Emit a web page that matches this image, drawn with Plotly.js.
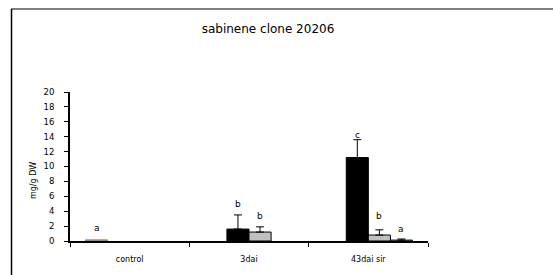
<!DOCTYPE html>
<html>
<head>
<meta charset="utf-8">
<script src="https://cdn.plot.ly/plotly-3.0.1.min.js"></script>
<style>html,body{margin:0;padding:0;background:#fff;}#chart{width:553px;height:275px;}</style>
</head>
<body>
<div id="chart"></div>
<script>
// ---- data ----
var categories = ["control", "3dai", "43dai sir"];
var seriesA = [0.15, null, null];          // control series (gray)
var seriesB = [null, 1.6, 11.2];           // black
var seriesBErr = [null, 1.9, 2.4];
var seriesC = [null, 1.2, 0.8];            // light gray
var seriesCErr = [null, 0.7, 0.7];
var seriesD = [null, null, 0.12];          // white
var seriesDErr = [null, null, 0.15];
var letterText = ["a", "b", "b", "c", "b", "a"];
var letterCat = ["control", "3dai", "3dai", "43dai sir", "43dai sir", "43dai sir"];
var letterSeries = [0, 1, 2, 1, 2, 3];
var letterY = [1.75, 5.0, 3.4, 14.2, 3.4, 1.6];
var yTicks = [0, 2, 4, 6, 8, 10, 12, 14, 16, 18, 20];

var FONT = "DejaVu Sans, sans-serif";

function bar(y, color, lineColor, err) {
  var t = {
    type: "bar", x: categories, y: y,
    marker: {color: color, line: {color: lineColor, width: 1}},
    hoverinfo: "none"
  };
  if (err) {
    t.error_y = {type: "data", array: err, symmetric: false, arrayminus: err.map(function(){return 0;}),
      color: "#000", thickness: 1, width: 4};
  }
  return t;
}

var traces = [
  bar(seriesA, "#999999", "#808080", null),
  bar(seriesB, "#000000", "#000000", seriesBErr),
  bar(seriesC, "#c0c0c0", "#000000", seriesCErr),
  bar(seriesD, "#ffffff", "#000000", seriesDErr)
];

var bargap = 0.26;
var slotW = (1 - bargap) / 4;
var annotations = letterText.map(function(t, i) {
  var ci = categories.indexOf(letterCat[i]);
  var xpos = ci - (1 - bargap) / 2 + slotW * (letterSeries[i] + 0.5);
  return {x: xpos, y: letterY[i], xref: "x", yref: "y", text: t, showarrow: false,
    font: {family: FONT, size: 9, color: "#000"}, yanchor: "middle", xanchor: "center"};
});
annotations.push({
  xref: "paper", yref: "y", x: (33 - 70) / 358, y: 8.05, text: "mg/g DW", textangle: -90,
  showarrow: false, font: {family: FONT, size: 8, color: "#000"}, xanchor: "center", yanchor: "middle"
});

var layout = {
  width: 553, height: 275,
  margin: {l: 70, r: 125, t: 92, b: 34, pad: 0},
  paper_bgcolor: "#fff", plot_bgcolor: "#fff",
  showlegend: false,
  barmode: "group", bargap: bargap, bargroupgap: 0,
  title: {text: "sabinene clone 20206", xref: "container", yref: "container",
    x: 268 / 553, y: 1 - 29 / 275, xanchor: "center", yanchor: "middle",
    font: {family: FONT, size: 12, color: "#000"}},
  xaxis: {
    type: "category", range: [-0.5, 2.5],
    showline: true, linecolor: "#000", linewidth: 2,
    ticks: "outside", tickson: "boundaries", ticklen: 4, tickcolor: "#000", tickwidth: 1,
    showgrid: false, zeroline: false, fixedrange: true,
    tickfont: {family: FONT, size: 8, color: "#000"}, ticklabelstandoff: 9
  },
  yaxis: {
    range: [0, 20], tickvals: yTicks, ticktext: yTicks.map(String),
    showline: true, linecolor: "#000", linewidth: 2,
    ticks: "outside", ticklen: 4, tickcolor: "#000", tickwidth: 1,
    showgrid: false, zeroline: false, fixedrange: true,
    tickfont: {family: FONT, size: 8.5, color: "#000"}, ticklabelstandoff: 8
  },
  annotations: annotations,
  shapes: [
    {type: "line", xref: "paper", yref: "paper", x0: (11 - 70) / 358, x1: (553 - 70) / 358,
      y0: (241 - 9) / 149, y1: (241 - 9) / 149, line: {color: "#808080", width: 2}},
    {type: "line", xref: "paper", yref: "paper", x0: (11.5 - 70) / 358, x1: (11.5 - 70) / 358,
      y0: (241 - 9) / 149, y1: (241 - 276) / 149, line: {color: "#000", width: 1.5}}
  ]
};

Plotly.newPlot("chart", traces, layout, {staticPlot: true, displayModeBar: false});
</script>
</body>
</html>
